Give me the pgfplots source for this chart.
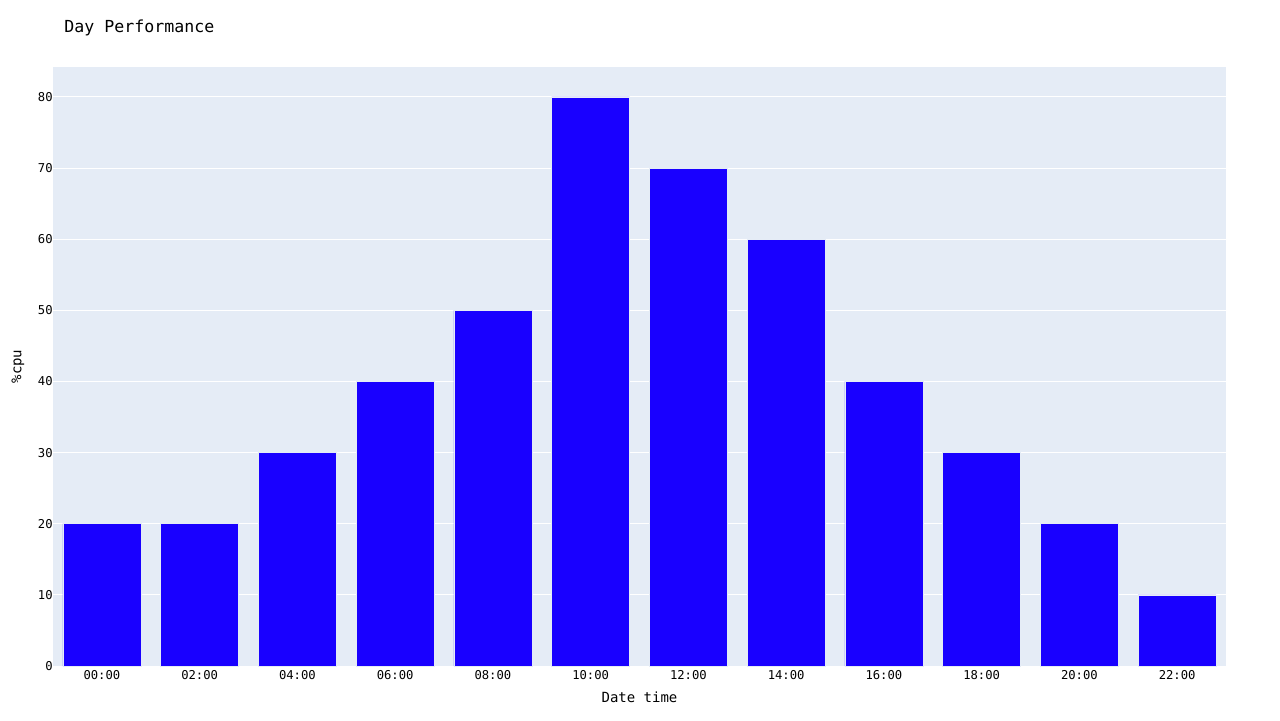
\documentclass[border=0pt]{standalone}
\usepackage{pgfplots}
\pgfplotsset{compat=1.18}
\usepackage{fontspec}
\setmainfont{DejaVu Sans Mono}
\definecolor{plotbg}{HTML}{E5ECF6}
\definecolor{barblue}{HTML}{1900FF}
\begin{document}
\begin{tikzpicture}
\useasboundingbox (0,0) rectangle (640pt,360pt);
\begin{axis}[
    at={(26.5pt,27pt)}, anchor=south west,
    scale only axis,
    width=586.5pt, height=299.5pt,
    xmin=-0.5, xmax=11.5,
    ymin=0, ymax=84.2,
    axis background/.style={fill=plotbg},
    axis line style={draw=none},
    major tick length=0pt,
    xtick={0,...,11},
    xticklabels={00:00,02:00,04:00,06:00,08:00,10:00,12:00,14:00,16:00,18:00,20:00,22:00},
    ytick={0,10,...,80},
    ymajorgrids,
    grid style={white, line width=0.5pt},
    tick label style={font=\fontsize{6.1}{7}\selectfont},
    /pgf/number format/assume math mode=true,
    yticklabel style={inner sep=0pt, xshift=0pt},
    xticklabel style={inner sep=0pt, yshift=-2.2pt},
    clip=false,
]
\addplot[ybar, bar width=0.8, fill=barblue, draw=plotbg, line width=0.25pt]
  coordinates {(0,20)(1,20)(2,30)(3,40)(4,50)(5,80)(6,70)(7,60)(8,40)(9,30)(10,20)(11,10)};
\node[anchor=west, inner sep=0pt, font=\fontsize{8.3}{10}\selectfont]
  at ([yshift=19.5pt]rel axis cs:0.0094,1) {Day Performance};
\node[inner sep=0pt, font=\fontsize{7}{8}\selectfont]
  at ([yshift=-15.5pt]rel axis cs:0.5,0) {Date time};
\node[inner sep=0pt, rotate=90, font=\fontsize{7}{8}\selectfont]
  at ([xshift=-17.5pt]rel axis cs:0,0.5) {\%cpu};
\end{axis}
\end{tikzpicture}
\end{document}
